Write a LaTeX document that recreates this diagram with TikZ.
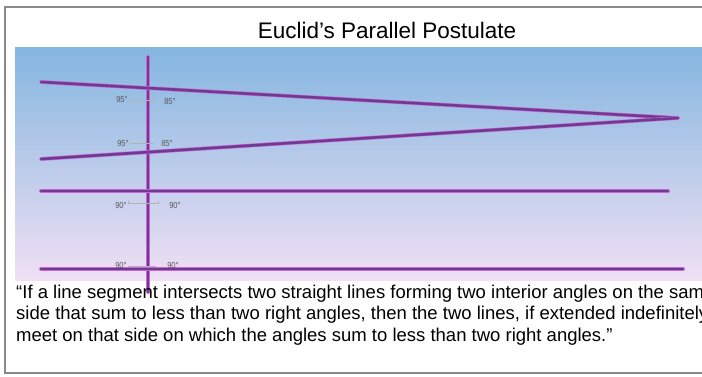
\documentclass[tikz,border=0pt]{standalone}
\usepackage{fontspec}
\setmainfont{Liberation Sans}
\newfontfamily\narrowfont[FakeStretch=0.86]{Liberation Sans}
\definecolor{skytop}{HTML}{84B6E0}
\definecolor{skymid}{HTML}{BCD6EE}
\definecolor{skybot}{HTML}{F0E0F4}
\definecolor{linepurple}{HTML}{6F3A90}
\definecolor{lineglow}{HTML}{C766D6}
\definecolor{framegray}{HTML}{8A8A8A}
\tikzset{
  geoline/.style={line width=3.8pt, draw=lineglow, line cap=round,
    postaction={draw=linepurple, line width=2.6pt, line cap=round}},
  anglabel/.style={font=\narrowfont\fontsize{8.8}{10}\selectfont, text=black!65, inner sep=0pt},
  anglink/.style={draw=black!30, line width=0.4pt},
  quote/.style={font=\fontsize{18.5}{22}\selectfont, anchor=base west, inner sep=0pt}
}
\begin{document}
\begin{tikzpicture}[x=1pt,y=-1pt]
\useasboundingbox (0,0) rectangle (702,376);
\begin{scope}
\clip (0,0) rectangle (702,376);
\fill[white] (0,0) rectangle (702,376);
% gradient panel
\shade[top color=skytop, middle color=skymid, bottom color=skybot] (15,47) rectangle (710,280);
% frame
\draw[framegray, line width=1.4pt] (5,7) rectangle (720,373);
% title
\node[font=\fontsize{22.5}{26}\selectfont, anchor=base] (title) at (387,38) {Euclid’s Parallel Postulate};
% points
\coordinate (a1) at (41,82);
\coordinate (a2) at (41,159);
\coordinate (apex) at (678,118);
\coordinate (b1) at (41,191);
\coordinate (b2) at (668,191);
\coordinate (c1) at (41,269);
\coordinate (c2) at (683,269);
\coordinate (vt) at (148,57);
\coordinate (vb) at (148,292);
% lines
\draw[geoline] (vt) -- (vb);
\draw[geoline] (a1) -- (apex);
\draw[geoline] (a2) -- (apex);
\draw[geoline] (b1) -- (b2);
\draw[geoline] (c1) -- (c2);
% angle labels
\node[anglabel] (l1) at (122,99) {95°};
\node[anglabel] (r1) at (170,101) {85°};
\node[anglabel] (l2) at (123,143) {95°};
\node[anglabel] (r2) at (167,143) {85°};
\node[anglabel] (l3) at (121,205) {90°};
\node[anglabel] (r3) at (175,205) {90°};
\node[anglabel] (l4) at (121,265) {90°};
\node[anglabel] (r4) at (173,265) {90°};
\draw[anglink] (l1.east) ++(1,1) -- ++(24,0) -- ++(0,-8);
\draw[anglink] (l2.east) ++(1,0) -- ++(24,0);
\draw[anglink] (l3.east) ++(1,-4) -- ++(0,2) -- ++(30,0) -- ++(0,-2);
\draw[anglink] (l4.east) ++(1,1) -- ++(28,0);
% quote
\node[quote] (q1) at (16,298) {“If a line segment intersects two straight lines forming two interior angles on the same};
\node[quote] (q2) at (16,319.5) {side that sum to less than two right angles, then the two lines, if extended indefinitely,};
\node[quote] (q3) at (16,341) {meet on that side on which the angles sum to less than two right angles.”};
\end{scope}
\end{tikzpicture}
\end{document}
